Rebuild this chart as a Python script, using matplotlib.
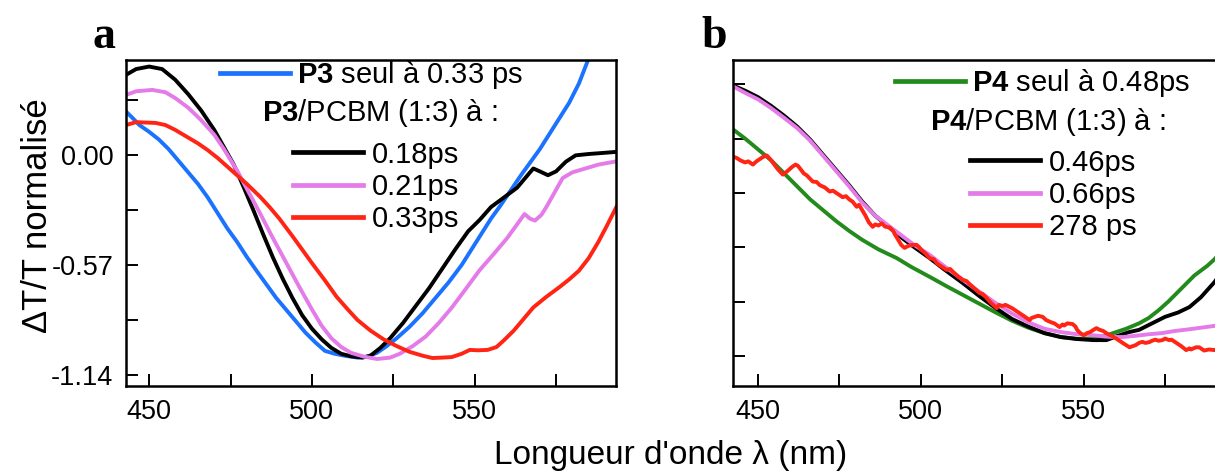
import numpy as np
import matplotlib
matplotlib.use("Agg")
import matplotlib.pyplot as plt
from matplotlib.ticker import FixedLocator, FormatStrFormatter, NullFormatter

# ---- panel a : P3 and P3/PCBM ----
a_blue_x = [442.9, 445, 447, 450, 453, 456, 459, 462, 465, 468, 471, 474, 477, 480, 483, 486, 489,
            492, 495, 498, 501, 504, 507, 510, 514, 517, 520, 523, 526, 530, 534, 538, 542, 546,
            549, 552, 555, 558, 561, 564, 567, 570, 573, 576, 579, 582, 585, 588, 591, 593.5]
a_blue_y = [0.225, 0.19, 0.155, 0.12, 0.08, 0.03, -0.03, -0.09, -0.15, -0.22, -0.30, -0.38, -0.45,
            -0.528, -0.60, -0.67, -0.74, -0.80, -0.86, -0.92, -0.97, -1.015, -1.03, -1.04, -1.05,
            -1.045, -1.025, -0.99, -0.95, -0.89, -0.82, -0.74, -0.66, -0.57, -0.49, -0.41, -0.33,
            -0.26, -0.185, -0.11, -0.04, 0.03, 0.11, 0.19, 0.27, 0.37, 0.5, 0.62, 0.74, 0.85]

a_black_x = [442.9, 446, 450, 454, 458, 462, 466, 470, 473, 476, 479, 482, 485, 488, 491, 494, 497,
             500, 503, 506, 509, 512, 515.5, 518, 521, 524, 528, 532, 536, 540, 544, 548, 551.5,
             555, 559, 563, 566, 568, 570, 572.5, 575, 578, 581, 585, 589, 593.5]
a_black_y = [0.415, 0.445, 0.458, 0.445, 0.39, 0.315, 0.23, 0.13, 0.04, -0.05, -0.165, -0.285,
             -0.41, -0.53, -0.64, -0.74, -0.83, -0.90, -0.955, -1.0, -1.03, -1.043, -1.05, -1.04,
             -1.0, -0.95, -0.87, -0.78, -0.69, -0.59, -0.49, -0.395, -0.337, -0.27, -0.22, -0.17,
             -0.11, -0.07, -0.085, -0.105, -0.085, -0.035, -0.002, 0.005, 0.01, 0.016]

a_violet_x = [442.9, 446, 451, 455, 458, 462, 466, 470, 473, 477, 480, 484, 488, 492, 496, 500, 503,
              506, 509, 512, 516, 520, 524, 527, 531, 535, 539, 543, 547, 551.5, 556, 560, 563,
              565.3, 567, 568.5, 570.5, 572, 574, 577, 580, 584, 588, 593.5]
a_violet_y = [0.311, 0.33, 0.337, 0.325, 0.295, 0.245, 0.18, 0.105, 0.03, -0.08, -0.175, -0.30,
              -0.43, -0.555, -0.68, -0.80, -0.885, -0.95, -0.995, -1.025, -1.045, -1.057, -1.05,
              -1.03, -0.99, -0.94, -0.87, -0.79, -0.70, -0.597, -0.51, -0.43, -0.36, -0.306, -0.33,
              -0.34, -0.31, -0.27, -0.21, -0.12, -0.09, -0.07, -0.05, -0.033]

a_red_x = [442.9, 446, 449, 452, 455, 458, 461.6, 465, 468, 471, 474, 477, 480, 484, 487, 490, 494,
           497, 500, 504, 507.6, 511, 514, 518, 522, 526, 530, 534, 537, 540, 543, 546, 548.5, 551,
           554, 556.7, 559, 562, 565, 568, 572, 576, 579, 582, 585, 588, 590.5, 593.5]
a_red_y = [0.155, 0.17, 0.168, 0.166, 0.155, 0.13, 0.094, 0.06, 0.025, -0.015, -0.06, -0.105, -0.15,
           -0.215, -0.27, -0.33, -0.42, -0.49, -0.56, -0.65, -0.735, -0.80, -0.855, -0.91, -0.955,
           -0.99, -1.02, -1.04, -1.052, -1.05, -1.047, -1.03, -1.01, -1.012, -1.01, -0.995, -0.96,
           -0.91, -0.85, -0.79, -0.735, -0.685, -0.645, -0.6, -0.535, -0.45, -0.37, -0.27]

# ---- panel b : P4 and P4/PCBM ----
b_green_x = [442.3, 446, 450, 454, 458, 462, 466, 470, 474, 478, 482, 487, 492.6, 497, 502.7, 508,
             513, 518, 523, 528, 533, 538, 543, 548, 552, 556, 559, 563, 567, 570, 573, 576, 580,
             584, 588, 590.2, 594]
b_green_y = [0.042, 0.0, -0.05, -0.10, -0.16, -0.22, -0.28, -0.33, -0.38, -0.425, -0.466, -0.51,
             -0.55, -0.59, -0.636, -0.68, -0.72, -0.76, -0.80, -0.838, -0.87, -0.895, -0.913,
             -0.921, -0.922, -0.91, -0.895, -0.875, -0.85, -0.825, -0.79, -0.75, -0.69, -0.63,
             -0.585, -0.555, -0.49]

b_black_x = [442.3, 446, 450, 454, 458, 462, 466, 470, 474, 478, 482, 486, 490, 494, 498, 502.7, 507,
             512.9, 518, 523, 528, 533, 538, 543, 548, 553, 557, 560, 564, 567, 571, 575, 579,
             582.5, 586, 590.2, 594]
b_black_y = [0.244, 0.22, 0.19, 0.15, 0.105, 0.055, -0.005, -0.075, -0.145, -0.215, -0.29, -0.355,
             -0.405, -0.455, -0.50, -0.55, -0.60, -0.665, -0.725, -0.78, -0.83, -0.865, -0.895,
             -0.913, -0.922, -0.927, -0.927, -0.91, -0.89, -0.88, -0.85, -0.82, -0.80, -0.775,
             -0.73, -0.66, -0.58]

b_violet_x = [442.3, 446, 450, 454, 458, 462, 466, 470, 474, 478, 482, 486, 490, 494, 498, 502.7,
              507, 512.9, 518, 523, 528, 533, 538, 543, 548, 553, 558, 562, 566, 570, 574, 578,
              582, 586, 590, 594]
b_violet_y = [0.24, 0.21, 0.18, 0.14, 0.095, 0.048, -0.01, -0.08, -0.15, -0.22, -0.295, -0.355,
              -0.40, -0.445, -0.49, -0.535, -0.585, -0.65, -0.705, -0.757, -0.805, -0.845, -0.875,
              -0.89, -0.90, -0.905, -0.912, -0.913, -0.907, -0.9, -0.895, -0.885, -0.878, -0.87,
              -0.862, -0.855]

b_red_x = [442.3, 443.5, 444.5, 446, 447, 448.4, 449.5, 450.5, 451.5, 452.7, 454, 455, 456, 457.6,
           459, 460.5, 461.5, 462.2, 463, 464, 465, 466.8, 468, 469, 470.5, 472, 473, 474, 475,
           476, 477, 478, 479, 480.3, 481, 482, 483, 484, 485.2, 486, 487, 488, 489, 490.5, 491.5,
           492, 493, 494, 495, 496, 497, 498.7, 499.5, 500, 501.5, 502.7, 504, 505, 506, 507.9,
           509, 510, 511.5, 512.9, 514, 515, 516.5, 518, 519, 520, 521.5, 523.3, 524, 525, 526,
           527.3, 528, 529, 530, 531, 532, 533.4, 534, 535, 536, 537.4, 538.5, 540, 541, 542.6,
           543.5, 544, 545, 546.6, 547.5, 548, 549, 550, 551, 552, 553, 553.9, 555, 556, 557.5,
           558.9, 560, 561, 562.5, 564.1, 565, 566, 567, 568, 569, 570.2, 571, 572, 573, 574.2,
           575, 576.3, 577, 578, 579, 580, 581.5, 582.5, 583, 584.5, 585.5, 586.5, 587, 588.5,
           590.2, 591.5, 594]
b_red_y = [-0.083, -0.09, -0.1, -0.11, -0.105, -0.12, -0.105, -0.095, -0.085, -0.078, -0.1, -0.12,
           -0.14, -0.166, -0.15, -0.13, -0.12, -0.125, -0.14, -0.16, -0.17, -0.198, -0.2, -0.215,
           -0.225, -0.244, -0.24, -0.25, -0.26, -0.27, -0.265, -0.28, -0.29, -0.314, -0.305,
           -0.33, -0.355, -0.385, -0.406, -0.395, -0.40, -0.39, -0.405, -0.41, -0.425, -0.44,
           -0.465, -0.49, -0.503, -0.495, -0.49, -0.489, -0.5, -0.51, -0.53, -0.55, -0.555, -0.575,
           -0.585, -0.604, -0.6, -0.615, -0.635, -0.65, -0.655, -0.67, -0.69, -0.71, -0.715, -0.73,
           -0.755, -0.78, -0.765, -0.77, -0.765, -0.775, -0.78, -0.79, -0.8, -0.81, -0.82, -0.835,
           -0.825, -0.82, -0.815, -0.82, -0.835, -0.845, -0.85, -0.867, -0.855, -0.86, -0.85,
           -0.853, -0.865, -0.88, -0.895, -0.905, -0.895, -0.89, -0.88, -0.872, -0.88, -0.885,
           -0.9, -0.91, -0.92, -0.93, -0.945, -0.96, -0.955, -0.95, -0.94, -0.935, -0.94, -0.936,
           -0.93, -0.925, -0.93, -0.927, -0.92, -0.927, -0.925, -0.935, -0.945, -0.955, -0.973,
           -0.965, -0.97, -0.96, -0.96, -0.97, -0.975, -0.97, -0.973, -0.965, -0.98]

a_labels = [r"$\mathbf{P3}$ seul à 0.33 ps", "0.18ps", "0.21ps", "0.33ps"]
b_labels = [r"$\mathbf{P4}$ seul à 0.48ps", "0.46ps", "0.66ps", "278 ps"]
a_header = r"$\mathbf{P3}$/PCBM (1:3) à :"
b_header = r"$\mathbf{P4}$/PCBM (1:3) à :"

a_yticks = [-1.14, -0.57, 0.0]
a_yminor = [-0.855, -0.285, 0.285]
b_yticks = [-1.0, -0.75, -0.5, -0.25, 0.0, 0.25]

BLUE = "#1a72ff"
BLACK = "#000000"
VIOLET = "#e47be8"
RED = "#ff2414"
GREEN = "#238a1c"

plt.rcParams['font.family'] = ['Liberation Sans', 'DejaVu Sans']
plt.rcParams['mathtext.fontset'] = 'custom'
plt.rcParams['mathtext.rm'] = 'Liberation Sans'
plt.rcParams['mathtext.bf'] = 'Liberation Sans:bold'

W, H = 1215, 473
fig = plt.figure(figsize=(W / 100, H / 100), dpi=100)


def fpos(x, y):
    return (x / W, 1 - y / H)


def style_axes(ax):
    for s in ax.spines.values():
        s.set_linewidth(1.8)
    ax.tick_params(which='both', direction='in', length=8.5, width=1.4,
                   labelsize=19.5, pad=9)
    ax.set_xlim(442.9, 593.4)
    ax.xaxis.set_major_locator(FixedLocator([450, 500, 550]))
    ax.xaxis.set_minor_locator(FixedLocator([475, 525, 575]))


lw = 2.8
# panel a
axa = fig.add_axes([126 / W, 1 - 386 / H, 490 / W, 326 / H])
style_axes(axa)
ha1, = axa.plot(a_blue_x, a_blue_y, color=BLUE, lw=lw)
ha2, = axa.plot(a_black_x, a_black_y, color=BLACK, lw=lw)
ha3, = axa.plot(a_violet_x, a_violet_y, color=VIOLET, lw=lw)
ha4, = axa.plot(a_red_x, a_red_y, color=RED, lw=lw)
axa.set_ylim(-1.197, 0.492)
axa.yaxis.set_major_locator(FixedLocator(a_yticks))
axa.yaxis.set_minor_locator(FixedLocator(a_yminor))
axa.yaxis.set_major_formatter(FormatStrFormatter('%.2f'))

# panel b (runs past the right edge, as in the cropped original)
axb = fig.add_axes([733 / W, 1 - 386 / H, 490 / W, 326 / H])
style_axes(axb)
axb.set_xlim(442.3, 592.8)
hb1, = axb.plot(b_green_x, b_green_y, color=GREEN, lw=lw)
hb2, = axb.plot(b_black_x, b_black_y, color=BLACK, lw=lw)
hb3, = axb.plot(b_violet_x, b_violet_y, color=VIOLET, lw=lw)
hb4, = axb.plot(b_red_x, b_red_y, color=RED, lw=lw)
axb.set_ylim(-1.138, 0.361)
axb.yaxis.set_major_locator(FixedLocator(b_yticks))
axb.yaxis.set_major_formatter(NullFormatter())

fs = 21
leg_kw = dict(frameon=False, fontsize=fs, borderpad=0, borderaxespad=0,
              handlelength=2.4, labelspacing=0.15, bbox_transform=fig.transFigure)

legends = [
    fig.legend([ha1], a_labels[:1], loc='center left', bbox_to_anchor=fpos(220, 75),
               handletextpad=0.25, **leg_kw),
    fig.legend([ha2, ha3, ha4], a_labels[1:], loc='center left', bbox_to_anchor=fpos(293, 187),
               handletextpad=0.3, **leg_kw),
    fig.legend([hb1], b_labels[:1], loc='center left', bbox_to_anchor=fpos(895, 83),
               handletextpad=0.25, **leg_kw),
    fig.legend([hb2, hb3, hb4], b_labels[1:], loc='center left', bbox_to_anchor=fpos(970, 195),
               handletextpad=0.3, **leg_kw),
]
for leg in legends:
    for line in leg.get_lines():
        line.set_linewidth(3.4)

fig.text(*fpos(262, 113), a_header, fontsize=fs, ha='left', va='center')
fig.text(*fpos(930, 122), b_header, fontsize=fs, ha='left', va='center')

# panel letters and axis titles
fig.text(*fpos(92, 48), "a", fontsize=33, fontweight='bold', family='Liberation Serif',
         ha='left', va='baseline')
fig.text(*fpos(701, 48), "b", fontsize=33, fontweight='bold', family='Liberation Serif',
         ha='left', va='baseline')
fig.text(*fpos(38, 216), "ΔT/T normalisé", fontsize=25, rotation=90, ha='center', va='center')
fig.text(*fpos(671, 455), "Longueur d'onde λ (nm)", fontsize=24, ha='center', va='center')

plt.savefig("out.png", dpi=100)
